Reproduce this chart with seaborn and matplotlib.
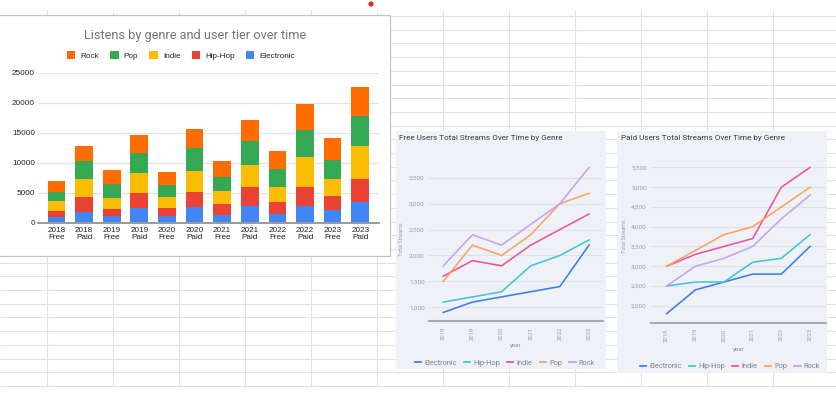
import numpy as np
import pandas as pd
import matplotlib
matplotlib.use("Agg")
import matplotlib.pyplot as plt
from matplotlib.patches import Rectangle, Circle, Patch
from matplotlib.lines import Line2D
from matplotlib.ticker import FuncFormatter
import seaborn as sns

# ---------------- data ----------------
years = [2018, 2019, 2020, 2021, 2022, 2023]
tiers = ["Free", "Paid"]
genres = ["Electronic", "Hip-Hop", "Indie", "Pop", "Rock"]

free_electronic = [900, 1100, 1200, 1300, 1400, 2200]
free_hiphop = [1100, 1200, 1300, 1800, 2000, 2300]
free_indie = [1600, 1900, 1800, 2200, 2500, 2800]
free_pop = [1500, 2200, 2000, 2400, 3000, 3200]
free_rock = [1800, 2400, 2200, 2600, 3000, 3700]

paid_electronic = [1800, 2400, 2600, 2800, 2800, 3500]
paid_hiphop = [2500, 2600, 2600, 3100, 3200, 3800]
paid_indie = [3000, 3300, 3500, 3700, 5000, 5500]
paid_pop = [3000, 3400, 3800, 4000, 4500, 5000]
paid_rock = [2500, 3000, 3200, 3500, 4200, 4800]

bar_title = "Listens by genre and user tier over time"
free_title = "Free Users Total Streams Over Time by Genre"
paid_title = "Paid Users Total Streams Over Time by Genre"
legend_order = ["Rock", "Pop", "Indie", "Hip-Hop", "Electronic"]
bar_yticks = [0, 5000, 10000, 15000, 20000, 25000]
free_yticks = [1000, 1500, 2000, 2500, 3000, 3500]
paid_yticks = [2000, 2500, 3000, 3500, 4000, 4500, 5000, 5500]

bar_colors = {"Electronic": "#4285F4", "Hip-Hop": "#EA4335", "Indie": "#FBBC04",
              "Pop": "#34A853", "Rock": "#FF6D01"}
line_colors = {"Electronic": "#3d7ee8", "Hip-Hop": "#45c4d6", "Indie": "#f0529f",
               "Pop": "#f7a463", "Rock": "#c6a2f4"}

series = {
    ("Free", "Electronic"): free_electronic, ("Free", "Hip-Hop"): free_hiphop,
    ("Free", "Indie"): free_indie, ("Free", "Pop"): free_pop, ("Free", "Rock"): free_rock,
    ("Paid", "Electronic"): paid_electronic, ("Paid", "Hip-Hop"): paid_hiphop,
    ("Paid", "Indie"): paid_indie, ("Paid", "Pop"): paid_pop, ("Paid", "Rock"): paid_rock,
}
rows = []
for (tier, genre), vals in series.items():
    for y, v in zip(years, vals):
        rows.append({"tier": tier, "genre": genre, "year": y, "streams": v})
df = pd.DataFrame(rows)

# ---------------- figure / helpers ----------------
W, H = 837, 398
fig = plt.figure(figsize=(W / 100, H / 100), dpi=100)
fig.patch.set_facecolor("white")


def add_axes_px(l, t, r, b, **kw):
    return fig.add_axes([l / W, 1 - b / H, (r - l) / W, (b - t) / H], **kw)


def ftext(x, y, s, **kw):
    return fig.text(x / W, 1 - y / H, s, **kw)


# spreadsheet background
bg = fig.add_axes([0, 0, 1, 1], zorder=-10)
bg.set_xlim(0, W)
bg.set_ylim(H, 0)
bg.axis("off")
row_lines = 16 + 13.7 * np.arange(28)
col_lines = 47 + 66 * np.arange(12)
bg.hlines(row_lines, 0, W, color="#e2e2e2", lw=0.8)
bg.vlines(col_lines, 10, row_lines[-1], color="#e2e2e2", lw=0.8)
bg.add_patch(Rectangle((-3, 15), 393, 241, fc="white", ec="#c2c2c2", lw=0.9, zorder=3))
bg.add_patch(Rectangle((396, 131), 210, 238, fc="#eef1f6", ec="none", zorder=3))
bg.add_patch(Rectangle((617, 131), 210, 242, fc="#eef1f6", ec="none", zorder=3))
bg.add_patch(Circle((371, 4), 2.6, fc="#e8261b", ec="none", zorder=3))

# ---------------- stacked bar chart ----------------
bar_font = ["Liberation Sans", "DejaVu Sans"]
stack = df.pivot_table(index=["year", "tier"], columns="genre", values="streams")[genres]
cum = stack.cumsum(axis=1)
cats = [f"{y}\n{t}" for y, t in stack.index]

axb = add_axes_px(38, 72.7, 379, 222.7)
axb.set_facecolor("none")
for g in reversed(genres):
    sns.barplot(x=cats, y=cum[g].values, order=cats, color=bar_colors[g],
                saturation=1, width=0.64, errorbar=None, linewidth=0, ax=axb)
axb.set_xlim(-0.67, 11.68)
axb.set_ylim(0, 25000)
axb.set_yticks(bar_yticks)
axb.set_axisbelow(True)
axb.grid(axis="y", color="#e3e3e3", lw=0.9)
axb.grid(axis="x", visible=False)
for s in ["top", "right", "left"]:
    axb.spines[s].set_visible(False)
axb.spines["bottom"].set_color("#9a9a9a")
axb.spines["bottom"].set_linewidth(1.4)
axb.tick_params(length=0, labelsize=5.9, labelcolor="#222222")
axb.tick_params(axis="y", pad=2.2)
axb.tick_params(axis="x", pad=3.0)
for lab in axb.get_xticklabels() + axb.get_yticklabels():
    lab.set_fontfamily(bar_font)
for lab in axb.get_xticklabels():
    lab.set_linespacing(1.1)
axb.set_xlabel("")
axb.set_ylabel("")

ftext(195, 35.5, bar_title, ha="center", va="center", fontsize=9.2,
      color="#757575", family=["Roboto", "DejaVu Sans"])
handles = [Patch(fc=bar_colors[g], ec="none") for g in legend_order]
leg = axb.legend(handles, legend_order, ncol=5, loc="center",
                 bbox_to_anchor=(181 / W, 1 - 55.7 / H), bbox_transform=fig.transFigure,
                 frameon=False, fontsize=5.9, handlelength=1.0, handleheight=1.0,
                 handletextpad=0.65, columnspacing=1.35, borderaxespad=0,
                 prop={"family": bar_font, "size": 5.9})
for t in leg.get_texts():
    t.set_color("#222222")

# ---------------- line charts ----------------
line_font = ["Roboto", "DejaVu Sans"]


def line_panel(tier, box, ylim, xlim, yticks, title, title_xy, ylab_x, year_y, leg_y, leg_cx):
    l, t, r, b = box
    ax = add_axes_px(l, t, r, b)
    ax.set_facecolor("none")
    sub = df[df.tier == tier]
    sns.lineplot(data=sub, x="year", y="streams", hue="genre", hue_order=genres,
                 palette=line_colors, lw=1.15, legend=False, ax=ax)
    ax.set_xlim(*xlim)
    ax.set_ylim(*ylim)
    ax.set_yticks(yticks)
    ax.set_xticks(years)
    ax.yaxis.set_major_formatter(FuncFormatter(lambda v, p: f"{int(v):,}"))
    ax.grid(axis="y", color="#dde1e8", lw=0.8)
    ax.grid(axis="x", visible=False)
    ax.set_axisbelow(True)
    for s in ["top", "right", "left"]:
        ax.spines[s].set_visible(False)
    ax.spines["bottom"].set_color("#a7abb0")
    ax.spines["bottom"].set_linewidth(1.5)
    ax.tick_params(length=0, labelsize=4.6, labelcolor="#9aa0a6")
    ax.tick_params(axis="y", pad=3)
    ax.tick_params(axis="x", labelrotation=90, labelsize=4.2, pad=4)
    for lab in ax.get_xticklabels() + ax.get_yticklabels():
        lab.set_fontfamily(line_font)
    ax.set_xlabel("year", fontsize=4.4, color="#8d9298", family=line_font)
    ax.xaxis.set_label_coords(0.5, (b - year_y) / (b - t))
    ax.xaxis.label.set_va("center")
    ax.set_ylabel("Total Streams", fontsize=3.9, color="#9aa0a6", family=line_font)
    ax.yaxis.set_label_coords((ylab_x - l) / (r - l), 0.5)
    ax.yaxis.label.set_va("center")
    ftext(title_xy[0], title_xy[1], title, ha="left", va="center", fontsize=5.9,
          color="#3c4043", family=line_font)
    hs = [Line2D([0], [0], color=line_colors[g], lw=1.3) for g in genres]
    lg = ax.legend(hs, genres, ncol=5, loc="center",
                   bbox_to_anchor=(leg_cx / W, 1 - leg_y / H), bbox_transform=fig.transFigure,
                   frameon=False, handlelength=0.85, handletextpad=0.45,
                   columnspacing=0.95, borderaxespad=0,
                   prop={"family": line_font, "size": 5.3})
    for tx in lg.get_texts():
        tx.set_color("#80868b")
    return ax


line_panel("Free", (429, 157, 602.7, 321), (735, 3901), (2017.51, 2023.47), free_yticks,
           free_title, (399, 137.5), 401.7, 346, 363.3, 505)
line_panel("Paid", (651, 150, 825.7, 322.7), (1570, 5942), (2017.453, 2023.547), paid_yticks,
           paid_title, (621, 137.7), 624.3, 349.3, 366.7, 730)

fig.savefig("out.png", dpi=100, facecolor="white")
